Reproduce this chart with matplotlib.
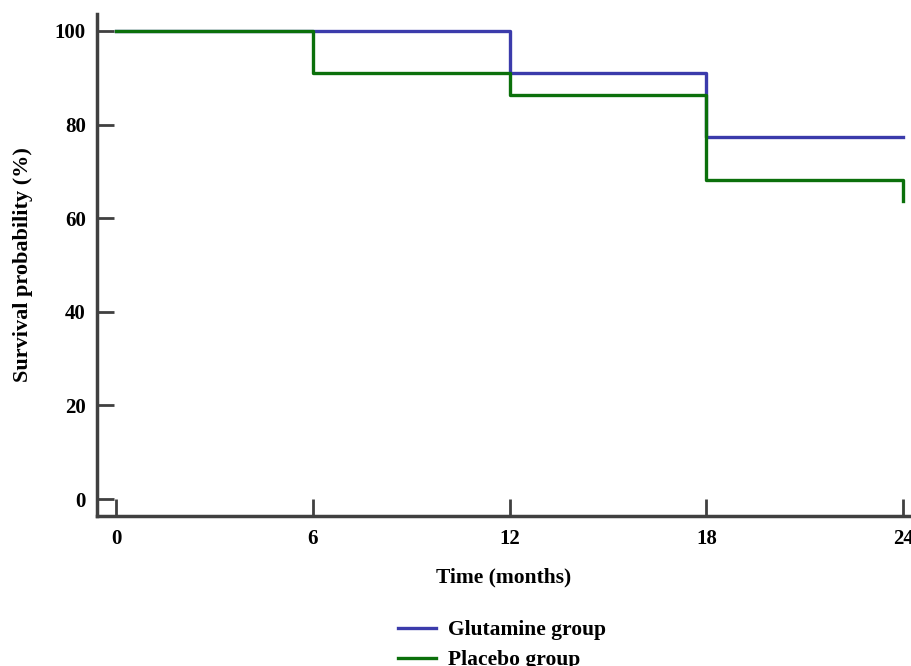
import matplotlib
matplotlib.use("Agg")
import matplotlib.pyplot as plt
from matplotlib.lines import Line2D

# Data
glut_times = [0, 12, 18, 24]
glut_surv = [100, 90.9, 77.3, 77.3]
plac_times = [0, 6, 12, 18, 24, 24]
plac_surv = [100, 90.9, 86.4, 68.2, 68.2, 63.6]
xticks = [0, 6, 12, 18, 24]
yticks = [0, 20, 40, 60, 80, 100]

BLUE = "#3b3bab"
GREEN = "#0b700b"
SPINE = "#404040"

plt.rcParams['font.family'] = ['Liberation Serif', 'DejaVu Serif']
plt.rcParams['font.weight'] = 'bold'

fig = plt.figure(figsize=(9.11, 6.66), dpi=100)
ax = fig.add_axes([97/911, 1 - 516/666, 1 - 97/911, (516 - 14)/666])

ax.step(glut_times, glut_surv, where='post', color=BLUE, lw=2.4, label='Glutamine group')
ax.step(plac_times, plac_surv, where='post', color=GREEN, lw=2.4, label='Placebo group')

ax.set_xlim(-0.58, 24.24)
ax.set_ylim(-3.6, 103.6)
ax.set_xticks(xticks)
ax.set_yticks(yticks)
ax.set_xticklabels([str(t) for t in xticks], fontsize=15, fontweight='bold')
ax.set_yticklabels([str(t) for t in yticks], fontsize=15, fontweight='bold')
ax.tick_params(axis='both', direction='in', length=12, width=2, color=SPINE, pad=8)
ax.tick_params(axis='x', pad=9)

for s in ['top', 'right']:
    ax.spines[s].set_visible(False)
for s in ['left', 'bottom']:
    ax.spines[s].set_color(SPINE)
    ax.spines[s].set_linewidth(2.5)

ax.set_xlabel('Time (months)', fontsize=15.5, fontweight='bold', labelpad=14)
ax.set_ylabel('Survival probability (%)', fontsize=16, fontweight='bold', labelpad=14)
ax.yaxis.set_label_coords(-0.079, 0.5)

handles = [Line2D([], [], color=BLUE, lw=2.4), Line2D([], [], color=GREEN, lw=2.4)]
fig.legend(handles, ['Glutamine group', 'Placebo group'], loc='upper center',
           bbox_to_anchor=(502/911, 1 - 601/666), frameon=False,
           handlelength=1.8, handletextpad=0.55, labelspacing=0.45,
           prop={'weight': 'bold', 'size': 15.5})

fig.savefig('out.png', dpi=100)
